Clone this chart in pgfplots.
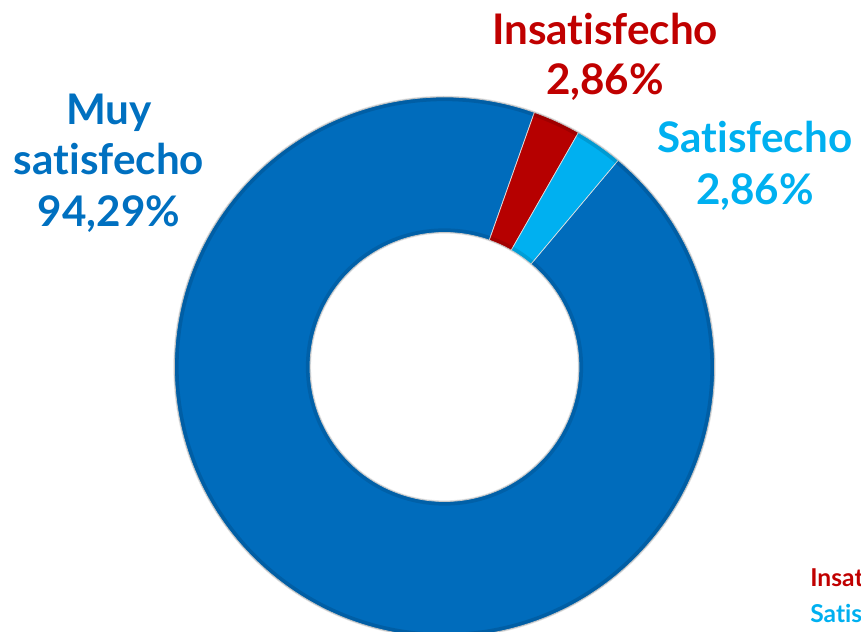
\documentclass[border=0pt]{standalone}
\usepackage{fontspec}
\setmainfont{Lato}[Ligatures=NoCommon]
\usepackage{pgfplots}
\usepackage{pgfplotstable}
\pgfplotsset{compat=1.18}

\definecolor{muyblue}{HTML}{0070C0}
\definecolor{ringblue}{HTML}{006CBC}
\definecolor{insred}{HTML}{C00000}
\definecolor{satcyan}{HTML}{00B0F0}

% shares in percent, in drawing order (clockwise)
\pgfplotstableread{
cat value
Muy 94.29
Insatisfecho 2.86
Satisfecho 2.86
}\sharetable

% ring sector: colour, start angle, end angle
\newcommand\ringslice[3]{%
  \fill[#1, draw=white!75!gray, line width=0.4pt]
    (axis cs:{\cx+\rout*cos(#2)},{\cy+\rout*sin(#2)})
    arc[start angle=#2, end angle=#3, radius=\rout]
    -- (axis cs:{\cx+\rin*cos(#3)},{\cy+\rin*sin(#3)})
    arc[start angle=#3, end angle=#2, radius=\rin] -- cycle;}

\begin{document}
\begin{tikzpicture}
\pgfplotstablegetelem{0}{value}\of\sharetable \let\vA\pgfplotsretval
\pgfplotstablegetelem{1}{value}\of\sharetable \let\vB\pgfplotsretval
\pgfplotstablegetelem{2}{value}\of\sharetable \let\vC\pgfplotsretval
% first slice starts 40 deg clockwise from 12 o'clock
\pgfmathsetmacro\aA{50}
\pgfmathsetmacro\aB{\aA-3.6*\vA}
\pgfmathsetmacro\aC{\aB-3.6*\vB}
\pgfmathsetmacro\aD{\aC-3.6*\vC}
\def\cx{8.89}\def\cy{5.30}\def\rout{5.40}\def\rin{2.69}

\useasboundingbox (0,0) rectangle (17.22,12.64);
\begin{axis}[
  x=1cm, y=1cm,
  xmin=0, xmax=17.22, ymin=0, ymax=12.64,
  hide axis, disabledatascaling, clip=true, clip mode=global,
]
\ringslice{ringblue}{\aA}{\aB}
\ringslice{insred!95!black}{\aB}{\aC}
\ringslice{satcyan}{\aC}{\aD}
% soft bevel at the edges
\draw[black, opacity=0.12, line width=3pt] (axis cs:\cx,\cy) circle[radius=\rout-0.03];
\draw[black, opacity=0.10, line width=3pt] (axis cs:\cx,\cy) circle[radius=\rin+0.03];

\begin{scope}[every node/.style={font=\fontsize{24}{28}\selectfont\bfseries, anchor=base, inner sep=0pt}]
\node[text=insred] at (axis cs:12.10,11.74) {Insatisfecho};
\node[text=insred] at (axis cs:12.10,10.74) {2,86\%};
\node[text=satcyan] at (axis cs:15.10,9.58) {Satisfecho};
\node[text=satcyan] at (axis cs:15.10,8.54) {2,86\%};
\node[text=muyblue] at (axis cs:2.18,10.14) {Muy};
\node[text=muyblue] at (axis cs:2.18,9.14) {satisfecho};
\node[text=muyblue] at (axis cs:2.18,8.10) {94,29\%};
\end{scope}
% legend, cut off by the right edge as in the reference
\node[text=insred, font=\fontsize{14}{17}\selectfont\bfseries, anchor=base west, inner sep=0pt] at (axis cs:16.20,0.90) {Insatisfecho};
\node[text=satcyan, font=\fontsize{14}{17}\selectfont\bfseries, anchor=base west, inner sep=0pt] at (axis cs:16.20,0.18) {Satisfecho};
\end{axis}
\end{tikzpicture}
\end{document}
